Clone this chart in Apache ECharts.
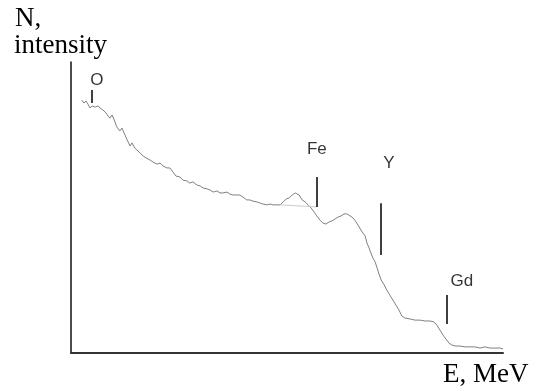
<!DOCTYPE html>
<html>
<head>
<meta charset="utf-8">
<script src="https://cdn.jsdelivr.net/npm/echarts@6/dist/echarts.min.js"></script>
<style>
  html, body { margin: 0; padding: 0; background: #fff; }
  #chart { width: 534px; height: 391px; }
</style>
</head>
<body>
<div id="chart"></div>
<script>
// Energy (arbitrary MeV scale) of each spectrum sample
const energy = [0.25,0.30,0.35,0.39,0.44,0.49,0.56,0.63,0.67,0.74,0.81,0.86,0.90,0.95,1.00,1.06,1.13,1.18,1.25,1.30,
  1.37,1.41,1.48,1.55,1.60,1.67,1.74,1.83,1.90,1.99,2.06,2.13,2.22,2.29,2.36,2.43,2.52,2.59,2.69,2.75,
  2.82,2.92,2.99,3.06,3.15,3.22,3.29,3.38,3.45,3.52,3.61,3.68,3.75,3.84,3.91,3.98,4.07,4.14,4.21,4.31,
  4.38,4.44,4.54,4.61,4.68,4.77,4.84,4.91,4.98,5.05,5.12,5.19,5.23,5.28,5.35,5.42,5.49,5.56,5.63,5.69,
  5.76,5.83,5.90,5.97,6.04,6.11,6.18,6.25,6.32,6.39,6.46,6.53,6.60,6.67,6.74,6.81,6.85,6.90,6.94,6.99,
  7.04,7.08,7.13,7.18,7.25,7.31,7.38,7.45,7.52,7.59,7.66,7.73,7.85,7.96,8.08,8.19,8.31,8.40,8.47,8.54,
  8.61,8.68,8.75,8.82,8.91,9.00,9.12,9.24,9.35,9.47,9.58,9.70,9.81,9.93,10.0];

// Counts N (intensity) at each energy
const counts = [869,859,866,856,842,849,845,849,842,835,825,814,807,818,801,777,763,773,749,732,
  711,722,704,694,687,677,670,663,656,649,653,643,636,636,622,608,605,594,591,584,
  588,577,574,567,564,560,553,557,550,550,553,546,543,543,543,536,526,526,522,519,
  515,512,509,512,509,509,509,519,529,533,543,550,553,543,526,519,509,498,484,471,
  457,447,443,450,454,460,467,471,478,478,471,464,450,433,416,402,378,361,344,326,
  313,295,271,251,234,216,199,182,165,148,127,120,117,113,113,110,110,107,96,79,
  62,48,34,27,24,24,21,21,21,17,21,17,17,17,14];

// Fitted background under the Fe peak
const feBaseE = [4.84, 5.69];
const feBaseN = [509, 502];

// Element lines: name, energy, line bottom / top, label position
const elements = ['O', 'Fe', 'Y', 'Gd'];
const elemE = [0.49, 5.69, 7.18, 8.70];
const elemLow = [859, 502, 337, 100];
const elemHigh = [904, 605, 515, 199];
const labelE = [0.60, 5.69, 7.36, 9.05];
const labelN = [938, 701, 653, 247];

const chart = echarts.init(document.getElementById('chart'), null, { renderer: 'canvas' });

const spectrum = energy.map((e, i) => [e, counts[i]]);
const baseline = feBaseE.map((e, i) => [e, feBaseN[i]]);

const markSegments = elements.map((name, i) => [
  { coord: [elemE[i], elemLow[i]] },
  { coord: [elemE[i], elemHigh[i]] }
]);

const labelPoints = elements.map((name, i) => ({ name: name, value: [labelE[i], labelN[i]] }));

const serif = '"Liberation Serif", "Times New Roman", serif';

chart.setOption({
  animation: false,
  backgroundColor: '#ffffff',
  grid: { left: 71, right: 31, top: 62, bottom: 38 },
  xAxis: {
    type: 'value', min: 0, max: 10,
    axisLine: { show: true, onZero: false, lineStyle: { color: '#333', width: 2 } },
    axisTick: { show: false }, axisLabel: { show: false }, splitLine: { show: false }
  },
  yAxis: {
    type: 'value', min: 0, max: 1000,
    axisLine: { show: true, onZero: false, lineStyle: { color: '#111', width: 1.5 } },
    axisTick: { show: false }, axisLabel: { show: false }, splitLine: { show: false }
  },
  series: [
    {
      type: 'line',
      data: spectrum,
      showSymbol: false,
      lineStyle: { color: '#808080', width: 1 },
      markLine: {
        silent: true,
        symbol: ['none', 'none'],
        label: { show: false },
        lineStyle: { color: '#000', width: 1.5, type: 'solid' },
        data: markSegments
      }
    },
    {
      type: 'line',
      data: baseline,
      showSymbol: false,
      lineStyle: { color: '#cccccc', width: 1 }
    },
    {
      type: 'scatter',
      data: labelPoints,
      symbolSize: 0,
      label: {
        show: true,
        position: 'inside',
        formatter: '{b}',
        color: '#000',
        fontFamily: '"Liberation Sans", Arial, sans-serif',
        fontSize: 17
      }
    }
  ],
  graphic: [
    { type: 'text', left: 15, top: 5, style: { text: 'N,', font: '27px ' + serif, fill: '#000' } },
    { type: 'text', left: 14, top: 32, style: { text: 'intensity', font: '27px ' + serif, fill: '#000' } },
    { type: 'text', left: 443, top: 361, style: { text: 'E, MeV', font: '27px ' + serif, fill: '#000' } }
  ]
});
</script>
</body>
</html>
